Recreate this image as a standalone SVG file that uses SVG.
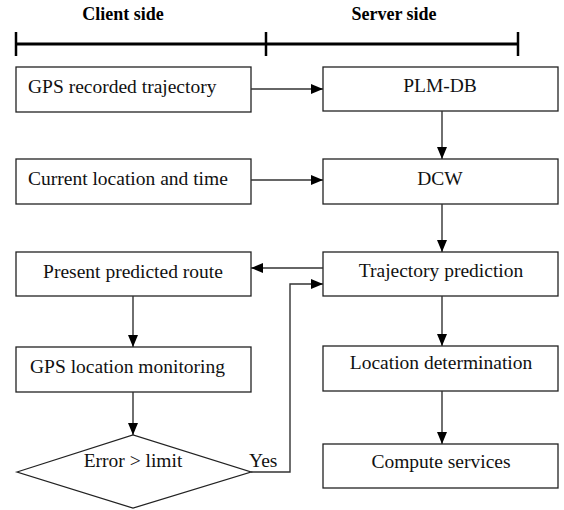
<svg xmlns="http://www.w3.org/2000/svg" width="564" height="510" viewBox="0 0 564 510">
<style>
.box{fill:#fff;stroke:#222;stroke-width:1.3}
.t{font-family:"Liberation Serif","Times New Roman",Times,serif;font-size:19.5px;fill:#111}
.c{text-anchor:middle}
.h{font-family:"Liberation Serif","Times New Roman",Times,serif;font-size:18px;font-weight:bold;fill:#000;text-anchor:middle}
.ln{fill:none;stroke:#333;stroke-width:1.4}
</style>
<defs>
<marker id="ah" viewBox="0 0 12 10" refX="12" refY="5" markerWidth="12" markerHeight="10" markerUnits="userSpaceOnUse" orient="auto">
<path d="M0,0 L12,5 L0,10 Z" fill="#000"/>
</marker>
</defs>
<g id="header">
<text class="h" x="123" y="20">Client side</text>
<text class="h" x="394" y="20">Server side</text>
<line x1="16" y1="44" x2="518" y2="44" stroke="#000" stroke-width="3"/>
<line x1="16" y1="32" x2="16" y2="56" stroke="#000" stroke-width="2.5"/>
<line x1="266" y1="32" x2="266" y2="56" stroke="#000" stroke-width="2.5"/>
<line x1="518" y1="32" x2="518" y2="56" stroke="#000" stroke-width="2.5"/>
</g>
<g id="gps-recorded"><rect class="box" x="16" y="67" width="235" height="45"/><text class="t" x="28" y="93">GPS recorded trajectory</text></g>
<g id="current-location"><rect class="box" x="16" y="159" width="235" height="45"/><text class="t" x="28" y="185">Current location and time</text></g>
<g id="present-route"><rect class="box" x="16" y="252" width="235" height="44"/><text class="t c" x="133" y="278">Present predicted route</text></g>
<g id="gps-monitoring"><rect class="box" x="16" y="347" width="235" height="45"/><text class="t" x="30" y="373">GPS location monitoring</text></g>
<g id="error-limit"><polygon class="box" points="17,472 133,435 251,472 133,508"/><text class="t c" x="133" y="467">Error &gt; limit</text></g>
<g id="plm-db"><rect class="box" x="323" y="67" width="235" height="44"/><text class="t c" x="440" y="92">PLM-DB</text></g>
<g id="dcw"><rect class="box" x="323" y="159" width="235" height="45"/><text class="t c" x="440" y="185">DCW</text></g>
<g id="trajectory-prediction"><rect class="box" x="323" y="252" width="235" height="44"/><text class="t c" x="441" y="277">Trajectory prediction</text></g>
<g id="location-determination"><rect class="box" x="323" y="346" width="235" height="45"/><text class="t c" x="441" y="369">Location determination</text></g>
<g id="compute-services"><rect class="box" x="323" y="444" width="235" height="44"/><text class="t c" x="441" y="468">Compute services</text></g>
<g id="connectors">
<line class="ln" x1="251" y1="89" x2="323" y2="89" marker-end="url(#ah)"/>
<line class="ln" x1="251" y1="180" x2="323" y2="180" marker-end="url(#ah)"/>
<line class="ln" x1="442" y1="111" x2="442" y2="159" marker-end="url(#ah)"/>
<line class="ln" x1="442" y1="204" x2="442" y2="252" marker-end="url(#ah)"/>
<line class="ln" x1="442" y1="296" x2="442" y2="346" marker-end="url(#ah)"/>
<line class="ln" x1="442" y1="391" x2="442" y2="444" marker-end="url(#ah)"/>
<line class="ln" x1="323" y1="268" x2="251" y2="268" marker-end="url(#ah)"/>
<line class="ln" x1="133" y1="296" x2="133" y2="347" marker-end="url(#ah)"/>
<line class="ln" x1="133" y1="392" x2="133" y2="435" marker-end="url(#ah)"/>
<polyline class="ln" points="251,472 290,472 290,284 323,284" marker-end="url(#ah)"/>
<text class="t" x="249" y="467">Yes</text>
</g>
</svg>
